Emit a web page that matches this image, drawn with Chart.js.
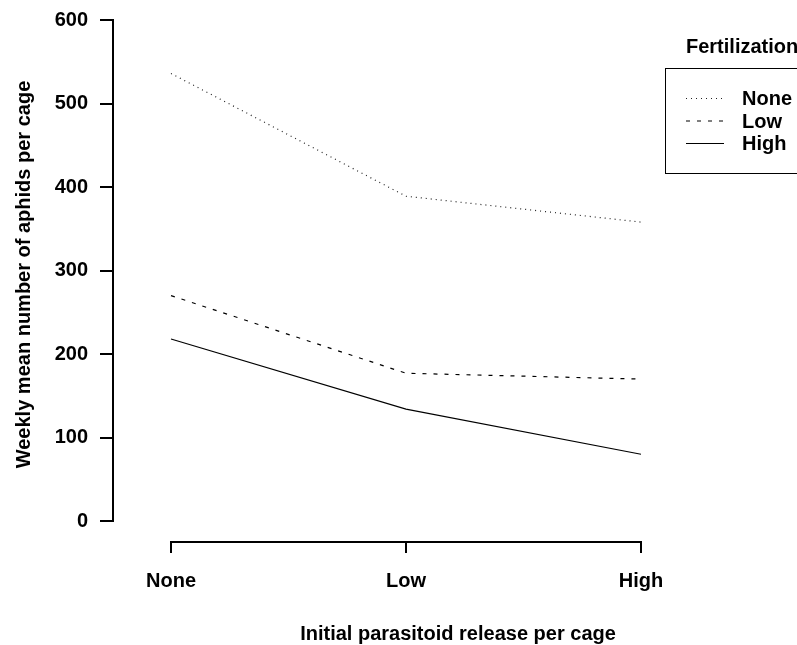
<!DOCTYPE html>
<html>
<head>
<meta charset="utf-8">
<script src="https://cdn.jsdelivr.net/npm/chart.js@4/dist/chart.umd.min.js"></script>
<style>
  html, body { margin: 0; padding: 0; background: #fff; }
  #wrap { width: 797px; height: 645px; }
</style>
</head>
<body>
<div id="wrap"><canvas id="c" width="797" height="645"></canvas></div>
<script>
// ---- data ----
const releaseLevels = ["None", "Low", "High"];           // x categories
const fertNone = [536, 389, 358];
const fertLow  = [270, 177, 170];
const fertHigh = [218, 134, 80];
const seriesNames = ["None", "Low", "High"];
const yTicks = [0, 100, 200, 300, 400, 500, 600];
const xTitle = "Initial parasitoid release per cage";
const yTitle = "Weekly mean number of aphids per cage";
const legendTitle = "Fertilization";

const FONT = '"Liberation Sans", Arial, sans-serif';

function toPoints(arr) { return arr.map((v, i) => ({ x: i, y: v })); }

const styles = [
  { dash: [1, 4], width: 1.2, color: '#222' },
  { dash: [4, 7], width: 1.2, color: '#000' },
  { dash: [],     width: 1.2, color: '#000' }
];
const seriesData = [fertNone, fertLow, fertHigh];

const datasets = seriesData.map((d, i) => ({
  label: seriesNames[i],
  data: toPoints(d),
  borderColor: styles[i].color,
  borderDash: styles[i].dash,
  borderWidth: styles[i].width,
  pointRadius: 0,
  tension: 0,
  fill: false
}));

const decorPlugin = {
  id: 'decor',
  afterDraw(chart) {
    const ctx = chart.ctx;
    const xs = chart.scales.x, ys = chart.scales.y;
    const area = chart.chartArea;
    ctx.save();
    ctx.strokeStyle = '#000';
    ctx.lineWidth = 2;
    ctx.lineCap = 'butt';
    // y axis line (from first to last tick)
    const yx = area.left;
    ctx.beginPath();
    ctx.moveTo(yx, ys.getPixelForValue(yTicks[0]) + 1);
    ctx.lineTo(yx, ys.getPixelForValue(yTicks[yTicks.length - 1]) - 1);
    ctx.stroke();
    // x axis line
    const xy = area.bottom;
    ctx.beginPath();
    ctx.moveTo(xs.getPixelForValue(0) - 1, xy);
    ctx.lineTo(xs.getPixelForValue(releaseLevels.length - 1) + 1, xy);
    ctx.stroke();

    // titles
    ctx.fillStyle = '#000';
    ctx.font = 'bold 20px ' + FONT;
    ctx.textAlign = 'center';
    ctx.textBaseline = 'middle';
    ctx.fillText(xTitle, 458, 634);
    ctx.save();
    ctx.translate(24, 274.5);
    ctx.rotate(-Math.PI / 2);
    ctx.fillText(yTitle, 0, 0);
    ctx.restore();

    // legend
    ctx.textAlign = 'left';
    ctx.fillText(legendTitle, 686, 47);
    ctx.lineWidth = 1;
    ctx.strokeStyle = '#000';
    ctx.strokeRect(665.5, 68.5, 200, 105);
    const rowsY = [98.5, 121, 143.5];
    seriesNames.forEach((n, i) => {
      ctx.save();
      ctx.strokeStyle = styles[i].color;
      ctx.lineWidth = styles[i].width;
      ctx.setLineDash(styles[i].dash);
      ctx.beginPath();
      ctx.moveTo(686, rowsY[i]);
      ctx.lineTo(724, rowsY[i]);
      ctx.stroke();
      ctx.restore();
      ctx.fillText(n, 742, rowsY[i] + 1);
    });
    ctx.restore();
  }
};

new Chart(document.getElementById('c'), {
  type: 'line',
  data: { datasets },
  options: {
    responsive: false,
    animation: false,
    layout: { padding: 0 },
    plugins: { legend: { display: false }, tooltip: { enabled: false } },
    scales: {
      x: {
        type: 'linear',
        min: -0.2468,
        max: 2.6638,
        afterBuildTicks(s) { s.ticks = releaseLevels.map((_, i) => ({ value: i })); },
        afterFit(s) { s.height = 103; s.paddingLeft = 0; s.paddingRight = 0; },
        border: { display: false },
        grid: { drawOnChartArea: false, drawTicks: true, tickLength: 11, color: '#000', lineWidth: 2 },
        ticks: {
          autoSkip: false, maxRotation: 0, padding: 16, color: '#000',
          font: { family: FONT, size: 20, weight: 'bold' },
          callback: (v) => releaseLevels[v] ?? ''
        }
      },
      y: {
        type: 'linear',
        min: -25.1,
        max: 624,
        afterBuildTicks(s) { s.ticks = yTicks.map(v => ({ value: v })); },
        afterFit(s) { s.width = 113; s.paddingTop = 0; s.paddingBottom = 0; },
        border: { display: false },
        grid: { drawOnChartArea: false, drawTicks: true, tickLength: 13, color: '#000', lineWidth: 2 },
        ticks: {
          padding: 12, color: '#000',
          font: { family: FONT, size: 20, weight: 'bold' },
          callback: (v) => String(v)
        }
      }
    }
  },
  plugins: [decorPlugin]
});
</script>
</body>
</html>
